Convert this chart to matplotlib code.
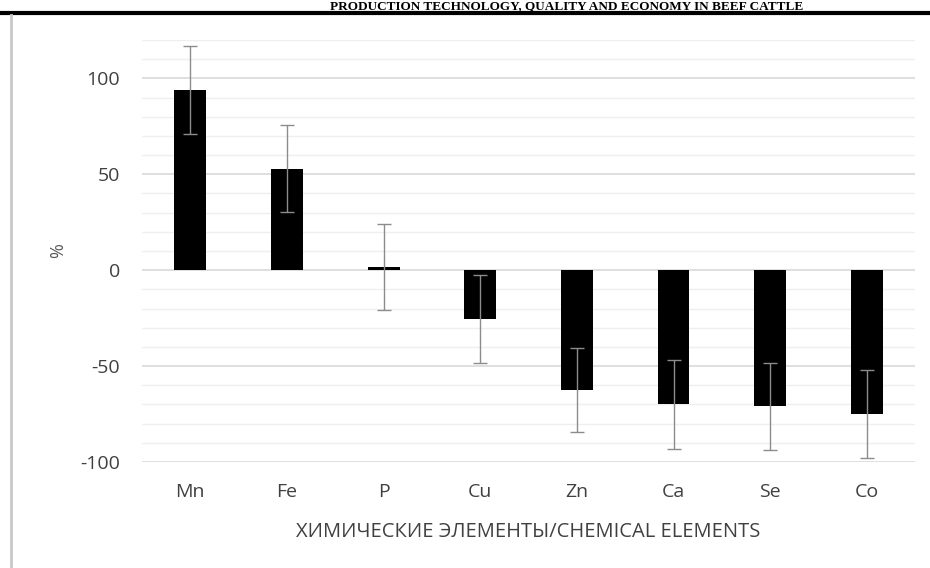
import matplotlib
matplotlib.use("Agg")
import matplotlib.pyplot as plt
from matplotlib.lines import Line2D
import numpy as np

elements = ["Mn", "Fe", "P", "Cu", "Zn", "Ca", "Se", "Co"]
values = [94, 53, 1.5, -25.5, -62.5, -70, -71, -75]
errors = [23, 22.5, 22.5, 23, 22, 23, 22.5, 23]
yticks = [-100, -50, 0, 50, 100]

plt.rcParams['font.family'] = ['Open Sans', 'DejaVu Sans']

fig = plt.figure(figsize=(9.3, 5.68), dpi=100)
ax = fig.add_axes([0.1527, 0.1866, 0.8313, 0.743])

x = np.arange(len(elements))
ax.bar(x, values, width=0.33, color='black', zorder=3)
ax.errorbar(x, values, yerr=errors, fmt='none', ecolor='#8c8c8c',
            elinewidth=1.0, capsize=5, capthick=1.0, zorder=4)

ax.set_xlim(-0.5, len(elements) - 0.5)
ax.set_ylim(-100, 120)
for v in range(-100, 121, 10):
    if v % 50 == 0:
        ax.axhline(v, color='#d9d9d9', lw=1.2, zorder=1)
    else:
        ax.axhline(v, color='#efefef', lw=1.0, zorder=1)

ax.set_yticks(yticks)
ax.set_yticklabels([str(t) for t in yticks])
ax.set_xticks(x)
ax.set_xticklabels(elements)
ax.tick_params(axis='both', length=0, labelsize=14, colors='#404040')
ax.tick_params(axis='y', pad=16)
ax.tick_params(axis='x', pad=15)
for s in ax.spines.values():
    s.set_visible(False)

ax.set_xlabel("ХИМИЧЕСКИЕ ЭЛЕМЕНТЫ/CHEMICAL ELEMENTS", fontsize=14.5,
              color='#404040', labelpad=15)
ax.set_ylabel("%", fontsize=13, color='#595959', labelpad=9)

# page decorations
fig.add_artist(Line2D([0, 1], [1 - 12.5 / 568, 1 - 12.5 / 568],
                      transform=fig.transFigure, color='black', lw=3))
fig.add_artist(Line2D([10.5 / 930, 10.5 / 930], [0, 1 - 15 / 568],
                      transform=fig.transFigure, color='#c8c8c8', lw=2))
fig.text(0.355, 1 - 0.5 / 568, "PRODUCTION TECHNOLOGY, QUALITY AND ECONOMY IN BEEF CATTLE",
         fontsize=9.5, fontweight='bold', family=['Liberation Serif', 'DejaVu Serif'],
         ha='left', va='top', color='black')

fig.savefig("out.png", dpi=100)
